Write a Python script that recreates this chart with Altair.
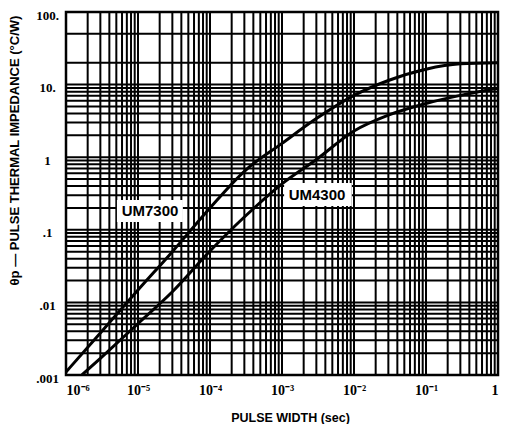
import altair as alt
import pandas as pd

# ---- data ----
pulse_um7300 = [1e-6, 3e-6, 1e-5, 3e-5, 1e-4, 3e-4, 1e-3, 3e-3, 1e-2, 3e-2, 1e-1, 3e-1, 1.0]
imp_um7300 = [0.0011, 0.0038, 0.0148, 0.050, 0.20, 0.64, 1.55, 3.4, 7.1, 11.4, 16.3, 19.3, 20.0]

pulse_um4300 = [1.66e-6, 3e-6, 1e-5, 3e-5, 1e-4, 3e-4, 1e-3, 3e-3, 1e-2, 3e-2, 1e-1, 3e-1, 1.0]
imp_um4300 = [0.001, 0.0017, 0.0051, 0.014, 0.051, 0.15, 0.43, 0.93, 2.3, 3.8, 5.5, 7.1, 8.9]

x_ticks = [1e-6, 1e-5, 1e-4, 1e-3, 1e-2, 1e-1, 1.0]
x_tick_labels = ["10⁻⁶", "10⁻⁵", "10⁻⁴", "10⁻³", "10⁻²", "10⁻¹", "1"]
y_ticks = [0.001, 0.01, 0.1, 1.0, 10.0, 100.0]
y_tick_labels = [".001", ".01", ".1", "1", "10.", "100."]

# grid positions (log paper)
x_grid_decades = [1e-6, 1e-5, 1e-4, 1e-3, 1e-2, 1e-1]
x_grid_mults = [1, 2, 3, 4, 5, 6, 7, 8, 9]
y_grid_decades = [0.001, 0.01, 0.1, 1.0]
y_grid_mults = [1, 2, 3, 4, 5, 6, 7, 8, 9]
y_top_decade = [10.0, 20.0, 50.0]

# annotation labels
label_text = ["UM7300", "UM4300"]
label_x = [1.47e-5, 3.06e-3]
label_y = [0.18, 0.30]
box_x1 = [5.1e-6, 1.07e-3]
box_x2 = [4.2e-5, 9.3e-3]
box_y1 = [0.128, 0.213]
box_y2 = [0.257, 0.44]

# ---- tables (all layers share the field names x / y) ----
curves = pd.concat([
    pd.DataFrame({"x": pulse_um7300, "y": imp_um7300, "device": "UM7300"}),
    pd.DataFrame({"x": pulse_um4300, "y": imp_um4300, "device": "UM4300"}),
])
gx = pd.DataFrame({"x": [d * m for d in x_grid_decades for m in x_grid_mults] + [1.0]})
gy = pd.DataFrame({"y": [d * m for d in y_grid_decades for m in y_grid_mults] + y_top_decade + [100.0]})
labels = pd.DataFrame({"text": label_text, "x": label_x, "y": label_y})
boxes_df = pd.DataFrame({"x": box_x1, "x2": box_x2, "y": box_y1, "y2": box_y2})


def label_expr(vals, labs):
    s = "''"
    for v, l in reversed(list(zip(vals, labs))):
        s = f"datum.value == {v!r} ? '{l}' : ({s})"
    return s


xs = alt.Scale(type="log", domain=[1e-6, 1.0], nice=False)
ys = alt.Scale(type="log", domain=[0.001, 100.0], nice=False)

x_axis = alt.Axis(
    values=x_ticks, labelExpr=label_expr(x_ticks, x_tick_labels), grid=False,
    ticks=False, tickSize=0, domain=False, labelPadding=8, labelBaseline="top",
    labelFont="Liberation Serif", labelFontWeight="bold", labelFontSize=14,
    labelColor="black", labelOverlap=False,
    title="PULSE WIDTH (sec)", titleFont="Liberation Sans", titleFontWeight="bold",
    titleFontSize=12.5, titleColor="black", titleX=224, titleY=46,
    titleBaseline="alphabetic", titleAlign="center", titleAnchor="start",
)
y_axis = alt.Axis(
    values=y_ticks, labelExpr=label_expr(y_ticks, y_tick_labels), grid=False,
    ticks=False, tickSize=0, domain=False, labelPadding=19, labelAlign="center",
    labelOffset=3, labelFont="Liberation Serif", labelFontWeight="bold",
    labelFontSize=13, labelColor="black", labelOverlap=False,
    title="θp — PULSE THERMAL IMPEDANCE (°C/W)", titleFont="Liberation Sans",
    titleFontWeight="bold", titleFontSize=13, titleColor="black",
    titleAngle=270, titleX=-48, titleY=138, titleBaseline="alphabetic",
    titleAlign="center", titleAnchor="start",
)

X = alt.X("x:Q", scale=xs, axis=x_axis)
Y = alt.Y("y:Q", scale=ys, axis=y_axis)

vgrid = alt.Chart(gx).mark_rule(color="black", strokeWidth=2).encode(x=X)
hgrid = alt.Chart(gy).mark_rule(color="black", strokeWidth=2).encode(y=Y)
boxes = alt.Chart(boxes_df).mark_rect(color="white", opacity=1).encode(
    x=X, x2="x2:Q", y=Y, y2="y2:Q",
)
lines = alt.Chart(curves).mark_line(color="black", strokeWidth=3, interpolate="monotone", clip=True).encode(
    x=X, y=Y, detail="device:N",
)
texts = alt.Chart(labels).mark_text(
    font="Liberation Sans", fontWeight="bold", fontSize=15, color="black",
    align="center", baseline="middle",
).encode(x=X, y=Y, text="text:N")

chart = alt.layer(vgrid, hgrid, boxes, lines, texts).properties(
    width=432, height=363,
    padding={"left": 58, "top": 4, "right": 3, "bottom": 49},
    autosize=alt.AutoSizeParams(type="none"),
    background="white",
).configure_view(stroke="black", strokeWidth=2.5)

chart.save("out.html", embed_options={"renderer": "svg", "actions": False})
